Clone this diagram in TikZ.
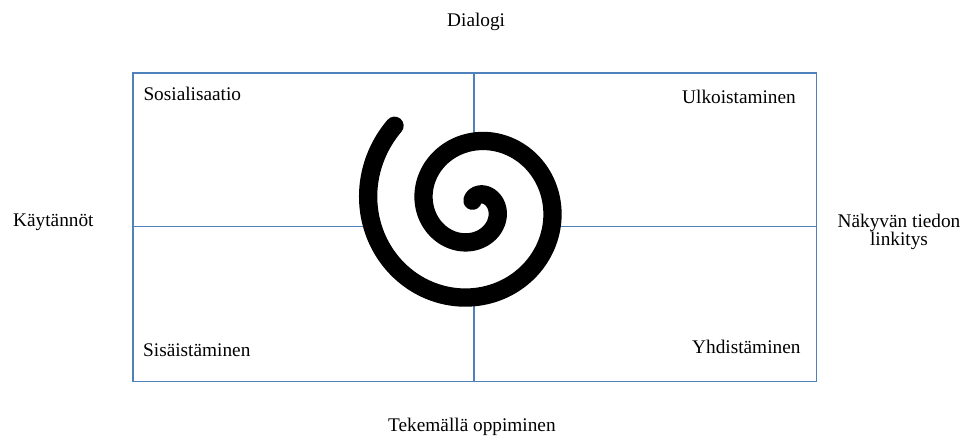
\documentclass[tikz,border=0pt]{standalone}
\usepackage{fontspec}
\setmainfont{Liberation Serif}
\definecolor{boxblue}{RGB}{79,129,189}
\begin{document}
\begin{tikzpicture}[x=1pt,y=-1pt,
  lbl/.style={inner sep=0pt,anchor=base west,font=\fontsize{19.3}{19}\selectfont},
  frame/.style={draw=boxblue,line width=1.1pt},
  spiralline/.style={line width=18.3pt,line cap=round,black}]
\useasboundingbox (0,0) rectangle (967,437);
% quadrant frame
\coordinate (tl) at (133,73);
\coordinate (br) at (816.5,381.5);
\coordinate (tm) at (474,73);
\coordinate (bm) at (474,381.5);
\coordinate (lm) at (133,226.8);
\coordinate (rm) at (816.5,226.8);
\draw[frame] (tl) rectangle (br);
\draw[frame] (tm) -- (bm);
\draw[frame] (lm) -- (rm);
% spiral (white inside, black stroke)
\fill[white,nonzero rule] plot[domain=-110:585,samples=400,smooth]
  ({474.2+(22+0.155*\x)*cos(\x)},{205.4+(22+0.155*\x)*sin(\x)}) -- cycle;
\draw[spiralline] plot[domain=-110:585,samples=400,smooth]
  ({474.2+(22+0.155*\x)*cos(\x)},{205.4+(22+0.155*\x)*sin(\x)});
% labels
\node[lbl] (dia) at (447,26.7) {Dialogi};
\node[lbl] (sos) at (143.3,100.7) {Sosialisaatio};
\node[lbl] (ulk) at (682,103) {Ulkoistaminen};
\node[lbl] (sis) at (143,356.7) {Sisäistäminen};
\node[lbl] (yhd) at (692,353) {Yhdistäminen};
\node[lbl] (kay) at (13,226.7) {Käytännöt};
\node[lbl] (tek) at (388,431) {Tekemällä oppiminen};
\node[inner sep=0pt,anchor=north,align=center,font=\fontsize{19.3}{18.7}\selectfont] (nak) at (899,213.5) {Näkyvän tiedon\\linkitys};
\end{tikzpicture}
\end{document}
